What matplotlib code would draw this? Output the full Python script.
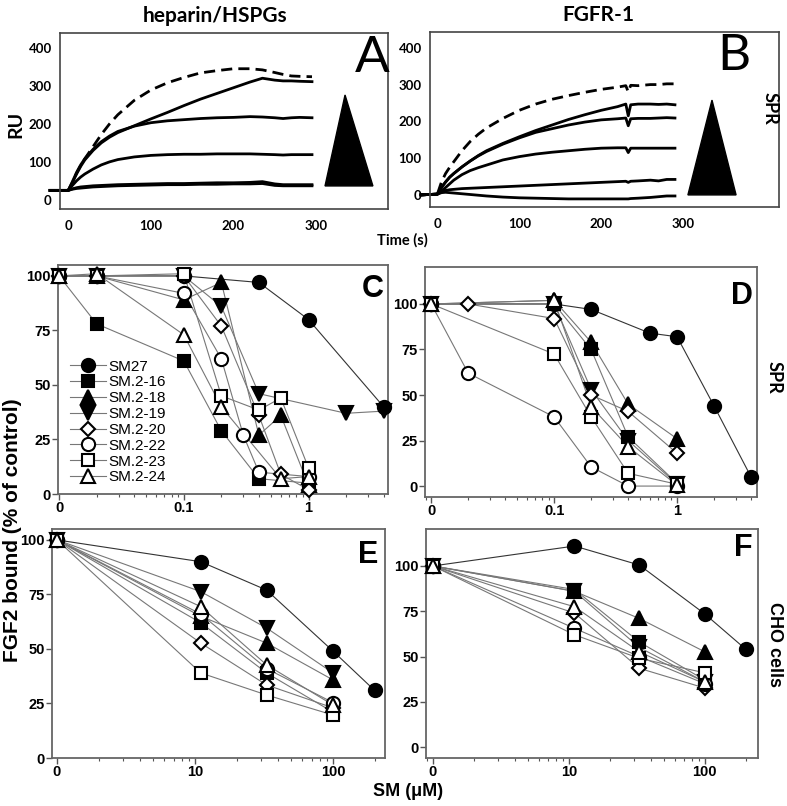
import matplotlib.pyplot as plt
from matplotlib.patches import Polygon
from matplotlib.lines import Line2D

W, H = 787, 806
fig = plt.figure(figsize=(W / 100, H / 100), dpi=100)

BOLD = ['Liberation Sans', 'DejaVu Sans']
CAL = ['Lato', 'DejaVu Sans']


def rect(l, t, r, b):
    return [l / W, 1 - b / H, (r - l) / W, (b - t) / H]


def fx(x):
    return x / W


def fy(y):
    return 1 - y / H


# ---------------- SPR sensorgrams (A, B) ----------------
tA = [-22, 0, 5, 10, 15, 20, 30, 40, 50, 60, 80, 100, 120, 140, 160, 180, 200, 220, 235, 250, 260, 270, 280, 295]
A_dash = [25, 25, 45, 70, 90, 108, 140, 172, 200, 224, 262, 289, 308, 322, 334, 340, 345, 345, 342, 335, 330, 326, 325, 324]
A_c2 = [25, 25, 45, 68, 88, 105, 130, 150, 165, 177, 195, 213, 230, 248, 265, 280, 295, 310, 320, 315, 313, 313, 312, 311]
A_c3 = [25, 25, 48, 72, 92, 108, 133, 153, 168, 180, 194, 203, 208, 211, 214, 216, 217, 219, 218, 216, 214, 216, 217, 216]
A_c4 = [25, 25, 38, 50, 60, 68, 81, 92, 100, 106, 113, 117, 119, 120, 120, 121, 121, 121, 120, 119, 118, 119, 119, 119]
A_c5 = [25, 25, 29, 32, 34, 35, 37, 38, 39, 40, 41, 42, 43, 43, 44, 45, 45, 46, 48, 42, 40, 40, 40, 40]
A_c6 = [25, 25, 28, 30, 31, 32, 34, 35, 36, 37, 38, 39, 40, 40, 41, 41, 42, 42, 43, 38, 37, 37, 37, 37]

tB = [-20, 0, 5, 10, 15, 20, 30, 40, 50, 60, 80, 100, 120, 140, 160, 180, 200, 220, 230, 233, 236, 245, 260, 270, 280, 290]
B_dash = [0, 2, 35, 58, 75, 90, 120, 145, 165, 182, 208, 230, 247, 260, 270, 279, 287, 293, 297, 280, 298, 297, 300, 300, 302, 302]
B_c2 = [0, 2, 20, 35, 48, 58, 76, 92, 107, 120, 140, 158, 175, 190, 205, 218, 230, 240, 247, 215, 245, 247, 247, 246, 247, 245]
B_c3 = [0, 2, 20, 35, 48, 58, 76, 92, 106, 118, 138, 155, 170, 180, 190, 198, 204, 207, 209, 188, 207, 208, 208, 209, 210, 209]
B_c4 = [0, 2, 10, 20, 30, 40, 55, 66, 74, 81, 95, 104, 111, 116, 120, 124, 127, 128, 128, 115, 127, 127, 127, 127, 127, 127]
B_c5 = [0, 2, 8, 12, 14, 15, 17, 18, 19, 20, 22, 24, 26, 28, 30, 32, 34, 36, 37, 34, 37, 38, 40, 38, 42, 42]
B_c6 = [0, 2, 6, 7, 6, 5, 3, 1, -1, -3, -6, -8, -9, -10, -11, -11, -11, -11, -11, -11, -10, -9, -7, -5, -3, -3]

spr_ticks_y = [0, 100, 200, 300, 400]
spr_ticks_x = [0, 100, 200, 300]


def spr_panel(pos, t, dash, curves, xlim, ylim, letter, lpos, tri):
    ax = fig.add_axes(rect(*pos))
    ax.plot(t, dash, color='black', lw=2.0, ls=(0, (4, 2.2)), clip_on=False)
    for c in curves:
        ax.plot(t, c, color='black', lw=2.0, clip_on=False)
    ax.set_xlim(*xlim)
    ax.set_ylim(*ylim)
    ax.set_yticks(spr_ticks_y)
    ax.set_xticks(spr_ticks_x)
    ax.tick_params(length=0, labelsize=9.5)
    ax.tick_params(axis='x', pad=8)
    ax.tick_params(axis='y', pad=6)
    for lab in ax.get_xticklabels() + ax.get_yticklabels():
        lab.set_family(CAL)
        lab.set_fontweight('bold')
    for s in ax.spines.values():
        s.set_color('#444')
        s.set_linewidth(1.2)
    ax.add_patch(Polygon(tri, closed=True, transform=ax.transAxes, color='black'))
    fig.text(fx(lpos[0]), fy(lpos[1]), letter, family=CAL, fontsize=37,
             ha='center', va='center')
    return ax


spr_panel((60, 33, 388, 209), tA, A_dash, [A_c2, A_c3, A_c4, A_c5, A_c6],
          (-10, 387), (-24, 439), 'A', (372, 58),
          [(0.869, 0.648), (0.808, 0.131), (0.954, 0.131)])
spr_panel((430, 32, 779, 207), tB, B_dash, [B_c2, B_c3, B_c4, B_c5, B_c6],
          (-9, 417), (-33, 443), 'B', (734, 56),
          [(0.808, 0.611), (0.739, 0.069), (0.877, 0.069)])

# ---------------- inhibition curves (C-F) ----------------
names = ["SM27", "SM.2-16", "SM.2-18", "SM.2-19", "SM.2-20", "SM.2-22", "SM.2-23", "SM.2-24"]
markers = ["o", "s", "^", "v", "D", "o", "s", "^"]
msizes = [9.5, 8.5, 10, 10, 7.5, 9.5, 8.5, 10]
fills = ["black", "black", "black", "black", "white", "white", "white", "white"]

conc_C = [0, 0.02, 0.1, 0.2, 0.3, 0.4, 0.6, 1, 2, 4]
C_vals = {
    "SM27":    [100, 100, 100, None, None, 97, None, 80, None, 40],
    "SM.2-16": [100, 78, 61, 29, None, 7, None, 5, None, None],
    "SM.2-18": [100, 100, 89, 97, None, 27, 36, 4, None, None],
    "SM.2-19": [100, 100, 100, 86, None, 46, None, None, 37, 38],
    "SM.2-20": [100, 100, 100, 77, None, 36, 9, 2, None, None],
    "SM.2-22": [100, 100, 92, 62, 27, 10, None, 8, None, None],
    "SM.2-23": [100, 100, 101, 45, None, 38.5, 44, 12, None, None],
    "SM.2-24": [100, 101, 73, 40, None, None, 7, 8, None, None],
}

conc_D = [0, 0.02, 0.1, 0.2, 0.4, 0.6, 1, 2, 4]
D_vals = {
    "SM27":    [100, None, 100, 97, None, 84, 82, 44, 5],
    "SM.2-16": [100, None, 100, 75, 27, None, 1.5, None, None],
    "SM.2-18": [100, None, 102, 79, 45, None, 26, None, None],
    "SM.2-19": [100, None, 100, 53, 25, None, 1, None, None],
    "SM.2-20": [100, 100, 92, 50, 41, None, 18, None, None],
    "SM.2-22": [100, 62, 38, 10.5, 0, None, 0, None, None],
    "SM.2-23": [100, None, 72.5, 38, 7, None, 1, None, None],
    "SM.2-24": [100, None, 102, 43.6, 21.6, None, 0.5, None, None],
}

conc_EF = [0, 11, 33, 100, 200]
E_vals = {
    "SM27":    [100, 90, 77, 49, 31],
    "SM.2-16": [100, 62, 39, 21, None],
    "SM.2-18": [100, 65, 52.7, 35.8, None],
    "SM.2-19": [100, 76.3, 59.6, 39, None],
    "SM.2-20": [100, 52.7, 33.5, 23, None],
    "SM.2-22": [100, 66, 41, 25.4, None],
    "SM.2-23": [100, 39, 28.9, 19.7, None],
    "SM.2-24": [100, 69.4, 42.7, 24.3, None],
}
F_vals = {
    "SM27":    [100, 111, 100.5, 73.5, 54],
    "SM.2-16": [100, 87, 58, 37, None],
    "SM.2-18": [100, 86, 71, 52.6, None],
    "SM.2-19": [100, 86, 55, 36, None],
    "SM.2-20": [100, 74, 43.5, 32.6, None],
    "SM.2-22": [100, 65.6, 50, 35, None],
    "SM.2-23": [100, 62, 49, 41, None],
    "SM.2-24": [100, 77.5, 52.6, 36, None],
}

pct_ticks = [0, 25, 50, 75, 100]


def conc_panel(pos, conc, zero_at, vals, xlim, ylim, xt, xtl, letter, lpos):
    ax = fig.add_axes(rect(*pos))
    xs_all = [zero_at if c == 0 else c for c in conc]
    for i, n in enumerate(names):
        pts = [(x, v) for x, v in zip(xs_all, vals[n]) if v is not None]
        xs = [p[0] for p in pts]
        ys = [p[1] for p in pts]
        lc = '#333333' if n == "SM27" else '#777777'
        ax.plot(xs, ys, color=lc, lw=0.8, zorder=2, clip_on=False)
        ax.plot(xs, ys, ls='none', marker=markers[i], ms=msizes[i],
                mfc=fills[i], mec='black', mew=1.5, zorder=3 + i * 0.1, clip_on=False)
    ax.set_xscale('log')
    ax.set_xlim(*xlim)
    ax.set_ylim(*ylim)
    ax.set_xticks(xt)
    ax.set_xticklabels(xtl)
    ax.set_yticks(pct_ticks)
    ax.tick_params(which='major', direction='out', length=4, width=1, color='#555',
                   labelsize=10.5, pad=1)
    ax.tick_params(which='minor', direction='out', length=2.5, width=0.8, color='#555')
    for lab in ax.get_xticklabels() + ax.get_yticklabels():
        lab.set_family(BOLD)
        lab.set_fontweight('bold')
    for s in ax.spines.values():
        s.set_color('#666')
        s.set_linewidth(1.3)
    fig.text(fx(lpos[0]), fy(lpos[1]), letter, family=BOLD, fontweight='bold',
             fontsize=22, ha='center', va='center')
    return ax


axC = conc_panel((58, 265, 388, 494), conc_C, 0.01, C_vals, (0.0098, 4.34), (0, 105),
                 [0.01, 0.1, 1], ['0', '0.1', '1'], 'C', (373, 289))
axD = conc_panel((425, 267, 757, 497), conc_D, 0.01, D_vals, (0.0089, 4.47), (-6, 120.3),
                 [0.01, 0.1, 1], ['0', '0.1', '1'], 'D', (742, 296))
axE = conc_panel((52, 529, 385, 758), conc_EF, 1, E_vals, (0.92, 238), (0, 105),
                 [1, 10, 100], ['0', '10', '100'], 'E', (368, 555))
axF = conc_panel((426, 529, 758, 758), conc_EF, 1, F_vals, (0.89, 246), (-6, 120.4),
                 [1, 10, 100], ['0', '10', '100'], 'F', (743, 548))

handles = [Line2D([], [], color='#777777', lw=0.8, marker=markers[i], ms=msizes[i],
                  mfc=fills[i], mec='black', mew=1.5) for i in range(len(names))]
axC.legend(handles, names, loc='upper left', bbox_to_anchor=(0.012, 0.62),
           frameon=False, borderpad=0, handlelength=2.4, handletextpad=0.15,
           labelspacing=0.12, prop={'family': BOLD, 'size': 11})

# ---------------- labels ----------------
fig.text(fx(215), fy(16), 'heparin/HSPGs', family=CAL, fontweight='bold', fontsize=15,
         ha='center', va='center')
fig.text(fx(598), fy(15), 'FGFR-1', family=CAL, fontweight='bold', fontsize=15,
         ha='center', va='center')
fig.text(fx(402), fy(240), 'Time (s)', family=CAL, fontweight='bold', fontsize=10.5,
         ha='center', va='center')
fig.text(fx(16), fy(124), 'RU', family=CAL, fontweight='bold', fontsize=14,
         rotation=90, ha='center', va='center')
fig.text(fx(770), fy(108), 'SPR', family=CAL, fontweight='bold', fontsize=13,
         rotation=-90, ha='center', va='center')
fig.text(fx(774), fy(377), 'SPR', family=CAL, fontweight='bold', fontsize=13,
         rotation=-90, ha='center', va='center')
fig.text(fx(774), fy(644), 'CHO cells', family=BOLD, fontweight='bold', fontsize=13,
         rotation=-90, ha='center', va='center')
fig.text(fx(13), fy(530), 'FGF2 bound (% of control)', family=BOLD, fontweight='bold',
         fontsize=15, rotation=90, ha='center', va='center')
fig.text(fx(408), fy(791), 'SM (\u03bcM)', family=BOLD, fontweight='bold', fontsize=13,
         ha='center', va='center')

fig.savefig('out.png', dpi=100)
